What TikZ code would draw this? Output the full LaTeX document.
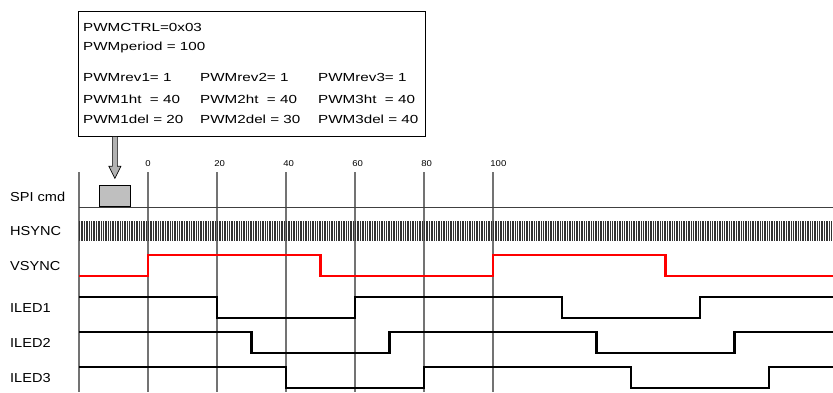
\documentclass[tikz,border=0pt]{standalone}
\usepackage{fontspec}
\setmainfont[FakeStretch=1.12]{Liberation Sans}
\newfontfamily\regfont[FakeStretch=1.3]{Liberation Sans}
\usetikzlibrary{positioning}

\begin{document}
\begin{tikzpicture}[x=1pt,y=-1pt,
  sig/.style={line width=2.8pt},
  gridline/.style={black!55,line width=1.1pt},
  lbl/.style={anchor=west,inner sep=0pt,text height=9pt,text depth=0pt,font=\fontsize{13}{15}\selectfont},
  reg/.style={anchor=west,inner sep=0pt,text height=8pt,text depth=0pt,font=\regfont\fontsize{11.7}{13}\selectfont},
  ticklbl/.style={anchor=west,inner sep=0pt,text height=6pt,text depth=0pt,font=\fontsize{8.5}{10}\selectfont}]
\useasboundingbox (0,0) rectangle (833,392);

\node[draw,line width=0.8pt,minimum width=347pt,minimum height=125pt,inner sep=0pt,anchor=north west] (regs) at (78,11) {};
\node[reg] (ctrl) at (83,27) {PWMCTRL=0x03};
\node[reg] (period) at (83,46) {PWMperiod = 100};
\foreach \i/\x/\d in {1/83/20,2/200/30,3/318/40} {
  \node[reg] (rev\i) at (\x,77) {PWMrev\i= 1};
  \node[reg] (ht\i) at (\x,99) {PWM\i ht~ = 40};
  \node[reg] (del\i) at (\x,119) {PWM\i del = \d};
}

\node[lbl] (spi) at (10,196.5) {SPI cmd};
\node[lbl] (hsync) at (10,231) {HSYNC};
\node[lbl] (vsync) at (10,265.5) {VSYNC};
\node[lbl] (iled1) at (10,307.5) {ILED1};
\node[lbl] (iled2) at (10,342.5) {ILED2};
\node[lbl] (iled3) at (10,377.5) {ILED3};

\begin{scope}[shift={(148,0)},x=3.45pt]
\foreach \t in {-20,0,20,...,100} \draw[gridline] (\t,172) -- (\t,392);
\foreach \t in {0,20,...,100} \node[ticklbl] (t\t) at (\t-0.8,163) {\t};

\draw[black!75,line width=0.8pt] (-20,207) -- (198.6,207);
\node[draw,fill=black!25,line width=0.7pt,minimum width=31pt,minimum height=21pt,inner sep=0pt,anchor=south] (spicmd) at (-9.6,207) {};

\draw[black!80,line width=0.45pt] \foreach \t in {-20,-19.5,...,198.5} {(\t,221) -- (\t,241)};

\draw[sig,red] (-20,276) -- (0,276) -- (0,255) -- (50,255) -- (50,276) -- (100,276) -- (100,255) -- (150,255) -- (150,276) -- (198.6,276);
\draw[sig] (-20,297) -- (20,297) -- (20,318) -- (60,318) -- (60,297) -- (120,297) -- (120,318) -- (160,318) -- (160,297) -- (198.6,297);
\draw[sig] (-20,332) -- (30,332) -- (30,353) -- (70,353) -- (70,332) -- (130,332) -- (130,353) -- (170,353) -- (170,332) -- (198.6,332);
\draw[sig] (-20,367) -- (40,367) -- (40,388) -- (80,388) -- (80,367) -- (140,367) -- (140,388) -- (180,388) -- (180,367) -- (198.6,367);
\end{scope}

\coordinate (arrtop) at (regs.south -| spicmd.north);
\coordinate (arrtip) at ([yshift=7pt]spicmd.north);
\draw[fill=black!30,line width=0.7pt] ([xshift=-2.5pt]arrtop) -- ([xshift=-2.5pt,yshift=12pt]arrtip) -- ([xshift=-6pt,yshift=12pt]arrtip) -- (arrtip) -- ([xshift=6pt,yshift=12pt]arrtip) -- ([xshift=2.5pt,yshift=12pt]arrtip) -- ([xshift=2.5pt]arrtop);
\end{tikzpicture}
\end{document}
